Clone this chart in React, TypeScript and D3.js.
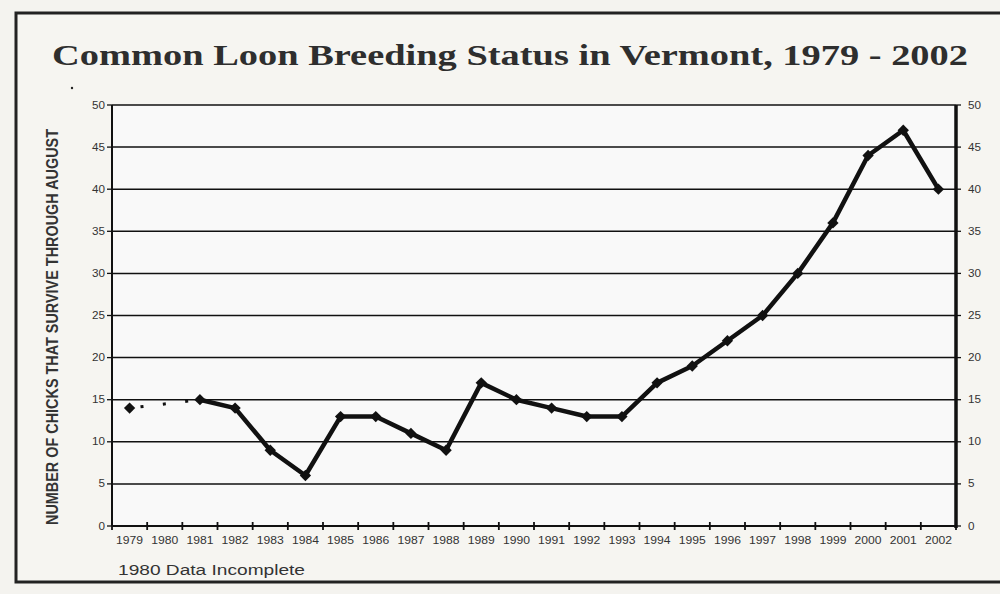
import React from "react";
import * as d3 from "d3";

const years = ["1979","1980","1981","1982","1983","1984","1985","1986","1987","1988","1989","1990","1991","1992","1993","1994","1995","1996","1997","1998","1999","2000","2001","2002"];
const chicks: (number | null)[] = [14, null, 15, 14, 9, 6, 13, 13, 11, 9, 17, 15, 14, 13, 13, 17, 19, 22, 25, 30, 36, 44, 47, 40];
const yTicks = [0, 5, 10, 15, 20, 25, 30, 35, 40, 45, 50];

const W = 1000, H = 594;
const left = 112, right = 956, top = 105, bottom = 526;

export default function App() {
  const x = d3.scaleBand<string>().domain(years).range([left, right]).padding(0);
  const y = d3.scaleLinear().domain([0, 50]).range([bottom, top]);
  const cx = (yr: string) => (x(yr) as number) + x.bandwidth() / 2;

  const solid = years.map((yr, i) => ({ yr, v: chicks[i] })).filter((d, i) => i >= 2 && d.v !== null) as { yr: string; v: number }[];
  const line = d3.line<{ yr: string; v: number }>().x(d => cx(d.yr)).y(d => y(d.v));
  const dotted = [{ yr: years[0], v: chicks[0] as number }, { yr: years[2], v: chicks[2] as number }];
  const markers = years.map((yr, i) => ({ yr, v: chicks[i] })).filter(d => d.v !== null) as { yr: string; v: number }[];
  const square = d3.symbol().type(d3.symbolSquare).size(64)();
  const boundaries = d3.range(years.length + 1).map(i => left + i * x.bandwidth());
  const sans = "Liberation Sans, Arial, sans-serif";

  return (
    <svg width={W} height={H} style={{ position: "absolute", left: 0, top: 0 }}>
      <rect x={0} y={0} width={W} height={H} fill="#f4f3ef" />
      <rect x={16} y={13} width={1000} height={569} fill="#f6f5f1" stroke="#222" strokeWidth={3} />
      <text x={52} y={65} fontFamily="Liberation Serif, serif" fontWeight="bold" fontSize={29} fill="#2e2e2e" textLength={916} lengthAdjust="spacingAndGlyphs">Common Loon Breeding Status in Vermont, 1979 - 2002</text>
      <circle cx={72} cy={88} r={1.2} fill="#222" />
      <rect x={left} y={top} width={right - left} height={bottom - top} fill="#f9f9f9" />
      {yTicks.filter(t => t > 0).map(t => (
        <line key={t} x1={left} x2={right} y1={y(t)} y2={y(t)} stroke="#111" strokeWidth={1.5} />
      ))}
      {yTicks.map(t => (
        <g key={"l" + t}>
          <line x1={left - 5} x2={left} y1={y(t)} y2={y(t)} stroke="#111" strokeWidth={1.3} />
          <text x={105} y={y(t) + 3.5} textAnchor="end" fontFamily={sans} fontSize={10} fill="#333" textLength={t < 10 ? 6.5 : 13} lengthAdjust="spacingAndGlyphs">{t}</text>
          <line x1={right} x2={right + 5} y1={y(t)} y2={y(t)} stroke="#111" strokeWidth={1.3} />
          <text x={968} y={y(t) + 3.5} textAnchor="start" fontFamily={sans} fontSize={10} fill="#333" textLength={t < 10 ? 6.5 : 13} lengthAdjust="spacingAndGlyphs">{t}</text>
        </g>
      ))}
      <line x1={left} x2={left} y1={top} y2={bottom} stroke="#111" strokeWidth={2} />
      <line x1={right} x2={right} y1={top} y2={bottom + 2} stroke="#111" strokeWidth={3.5} />
      <line x1={left} x2={right} y1={bottom} y2={bottom} stroke="#111" strokeWidth={2} />
      {boundaries.map((b, i) => (
        <line key={"t" + i} x1={b} x2={b} y1={bottom - 4} y2={bottom + 4} stroke="#111" strokeWidth={1.8} />
      ))}
      {years.map(yr => (
        <text key={yr} x={cx(yr)} y={544} textAnchor="middle" fontFamily={sans} fontSize={10} fill="#333" textLength={27} lengthAdjust="spacingAndGlyphs">{yr}</text>
      ))}
      <text transform={`translate(58, ${(bottom + 128) / 2}) rotate(-90)`} textAnchor="middle" fontFamily={sans} fontWeight="bold" fontSize={16.5} fill="#333" textLength={396} lengthAdjust="spacingAndGlyphs">NUMBER OF CHICKS THAT SURVIVE THROUGH AUGUST</text>
      <text x={118} y={575} fontFamily={sans} fontSize={14} fill="#333" textLength={187} lengthAdjust="spacingAndGlyphs">1980 Data Incomplete</text>
      <path d={line(dotted) as string} fill="none" stroke="#111" strokeWidth={3} strokeDasharray="3 19.5" strokeDashoffset={-11} />
      <path d={line(solid) as string} fill="none" stroke="#111" strokeWidth={4.5} strokeLinejoin="round" />
      {markers.map(d => (
        <path key={"m" + d.yr} d={square as string} transform={`translate(${cx(d.yr)},${y(d.v)}) rotate(45)`} fill="#111" />
      ))}
    </svg>
  );
}
